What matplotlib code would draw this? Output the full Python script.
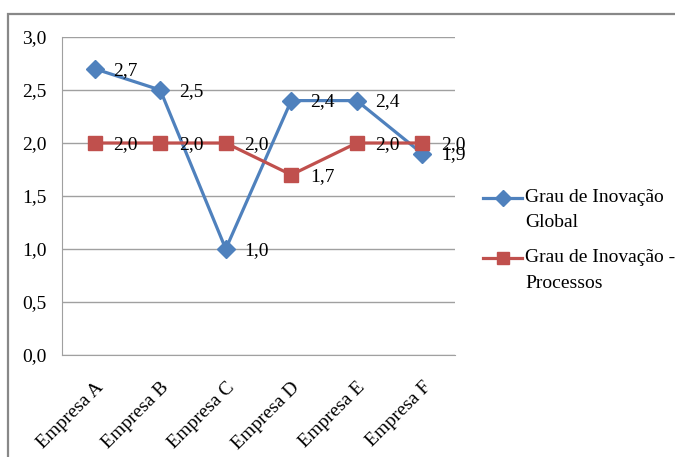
import numpy as np
import matplotlib.pyplot as plt
from matplotlib.lines import Line2D
from matplotlib.patches import Rectangle

plt.rcParams['font.family'] = ['Liberation Serif', 'DejaVu Serif']

empresas = ['Empresa A', 'Empresa B', 'Empresa C', 'Empresa D', 'Empresa E', 'Empresa F']
global_ = [2.7, 2.5, 1.0, 2.4, 2.4, 1.9]
processos = [2.0, 2.0, 2.0, 1.7, 2.0, 2.0]
yticks = [0.0, 0.5, 1.0, 1.5, 2.0, 2.5, 3.0]
series = [('Grau de Inovação', 'Global'), ('Grau de Inovação -', 'Processos')]

azul = '#4F81BD'
vermelho = '#C0504D'
fs = 14

fig = plt.figure(figsize=(6.75, 4.57), dpi=100)
W, H = 675, 457
ax = fig.add_axes([62 / W, 1 - 355 / H, (455 - 62) / W, (355 - 37) / H])

x = np.arange(len(empresas))
ax.plot(x, global_, color=azul, lw=2.3, marker='D', ms=9, zorder=3)
ax.plot(x, processos, color=vermelho, lw=2.3, marker='s', ms=9.5, zorder=3)

def fmt(v):
    return f'{v:.1f}'.replace('.', ',')

# rótulos de dados à direita dos pontos
for serie in (global_, processos):
    for xi, v in zip(x, serie):
        ax.annotate(fmt(v), (xi, v), xytext=(13.5, -1), textcoords='offset points',
                    ha='left', va='center', fontsize=fs, zorder=4)

ax.set_xlim(-0.5, len(empresas) - 0.5)
ax.set_ylim(0, 3)
ax.set_yticks(yticks)
ax.set_yticklabels([fmt(v) for v in yticks], fontsize=fs)
ax.set_xticks(x)
ax.set_xticklabels(empresas, rotation=45, ha='right', rotation_mode='anchor', fontsize=fs)
ax.tick_params(axis='y', length=0, pad=11)
ax.tick_params(axis='x', length=0, pad=17)
ax.yaxis.grid(True, color='#a0a0a0', lw=1)
ax.set_axisbelow(True)
for s in ['top', 'right']:
    ax.spines[s].set_visible(False)
for s in ['left', 'bottom']:
    ax.spines[s].set_color('#a0a0a0')

# legenda: marcador alinhado com a primeira linha do texto
leg_y = [198, 258]
for (l1, l2), cor, mk, ms, y in zip(series, [azul, vermelho], ['D', 's'], [8, 9], leg_y):
    yf = 1 - y / H
    fig.add_artist(Line2D([483 / W, 522 / W], [yf, yf], color=cor, lw=2.3,
                          transform=fig.transFigure))
    fig.add_artist(Line2D([503 / W], [yf], color=cor, marker=mk, ms=ms,
                          transform=fig.transFigure))
    fig.text(525 / W, yf, l1, fontsize=fs, va='center', ha='left')
    fig.text(525 / W, 1 - (y + 25) / H, l2, fontsize=fs, va='center', ha='left')

# moldura externa
fig.patches.append(Rectangle((8 / W, -0.01), 1.0, 1 - 14 / H + 0.01, transform=fig.transFigure,
                             fill=False, edgecolor='#888888', lw=1.6))

fig.savefig('out.png', dpi=100)
